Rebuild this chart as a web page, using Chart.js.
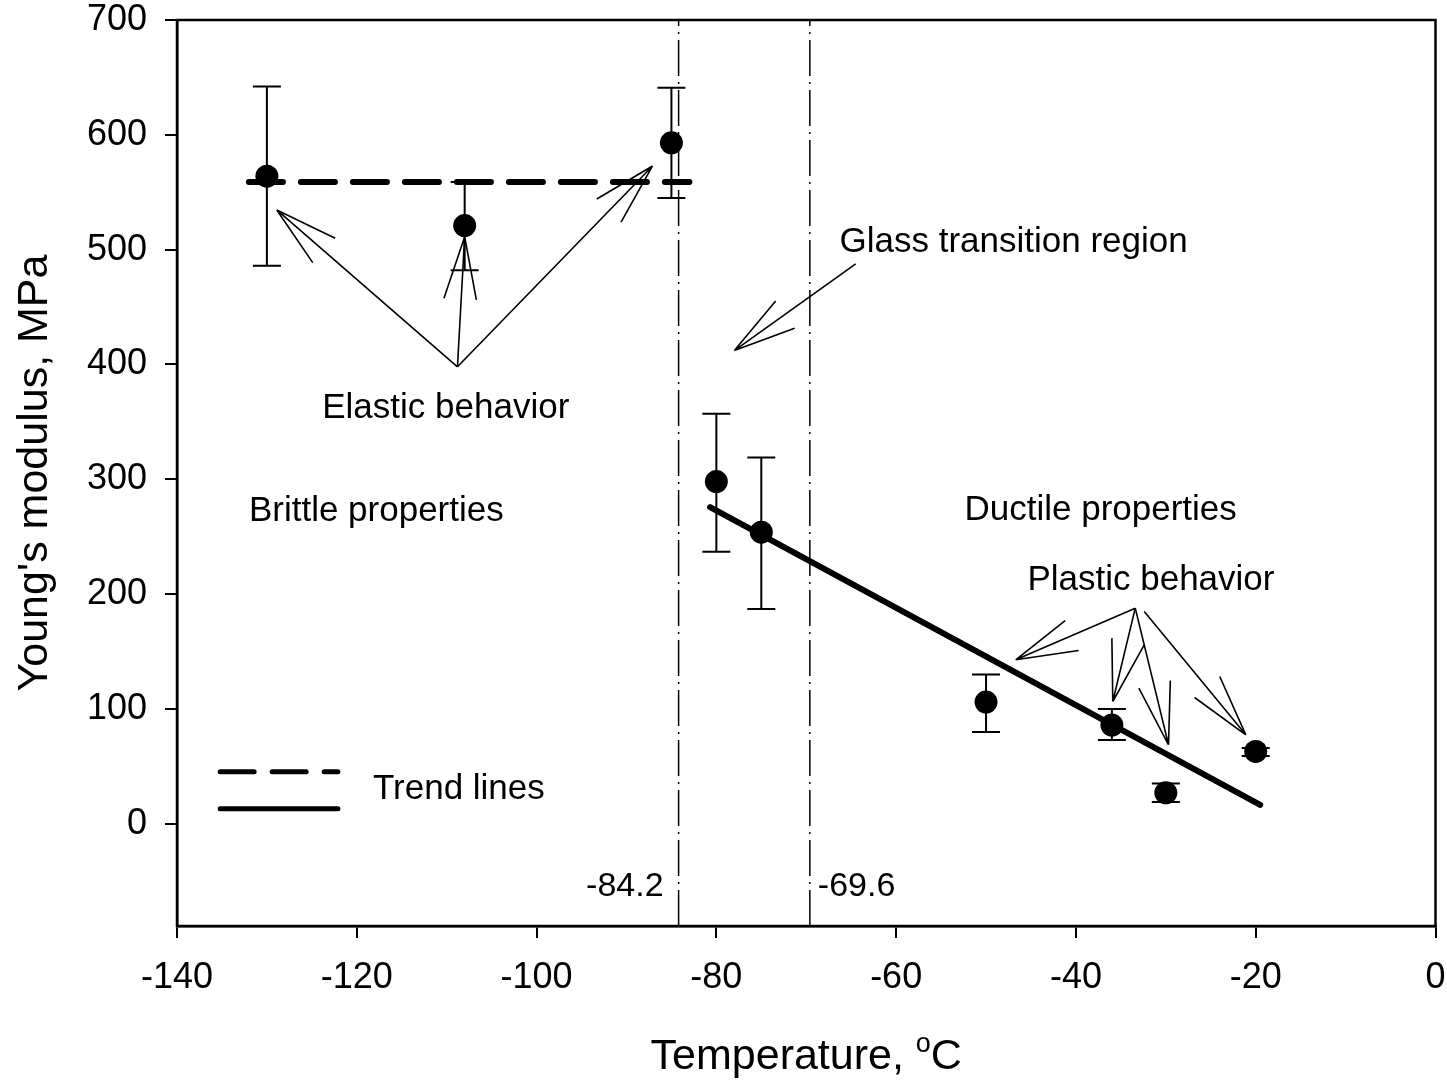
<!DOCTYPE html>
<html>
<head>
<meta charset="utf-8">
<title>Young's modulus vs temperature</title>
<script src="https://cdn.jsdelivr.net/npm/chart.js@4.4.1/dist/chart.umd.min.js"></script>
<style>
    html, body { margin: 0; padding: 0; background: #ffffff; }
    #wrap { width: 1447px; height: 1081px; }
</style>
</head>
<body>
<div id="wrap"><canvas id="modulusChart" width="1447" height="1081"></canvas></div>
<script>
// ---- data ----
const temps      = [-130, -108, -85, -80, -75, -50, -36, -30, -20];
const modulus    = [564, 521, 593, 298, 254, 106, 86, 27, 63];
const errLow     = [486, 482, 545, 237, 187, 80, 73, 19, 59];
const errHigh    = [642, 559, 641, 357, 319, 130, 100, 35, 66];

const xTicks = [-140, -120, -100, -80, -60, -40, -20, 0];
const yTicks = [0, 100, 200, 300, 400, 500, 600, 700];

// trend lines (brittle = dashed, ductile = solid)
const brittleTrendX = [-132, -83];
const brittleTrendY = [559, 559];
const ductileTrendX = [-80.7, -19.5];
const ductileTrendY = [275.7, 16.5];

// glass transition limits
const transitionTemps = [-84.2, -69.6];
const transitionLabels = ['-84.2', '-69.6'];

const FONT = '"Liberation Sans", Arial, Helvetica, sans-serif';
const yMin = -89, yMax = 700;

// annotation arrows in data units: line from tail to tip, plus two barbs at the tip
const arrows = [
    // elastic behavior
    { tail: [-108.8, 398], tip: [-128.9, 534.6], barbs: [[-122.4, 509.9], [-124.9, 488.7]] },
    { tail: [-108.8, 398], tip: [-108.0, 511.3], barbs: [[-110.3, 457.7], [-106.7, 456.2]] },
    { tail: [-108.8, 398], tip: [-87.1, 572.9], barbs: [[-93.3, 544.1], [-90.6, 523.9]] },
    // glass transition
    { tail: [-64.5, 487.6], tip: [-78.0, 412.1], barbs: [[-73.4, 455.3], [-71.3, 431.6]] },
    // plastic behavior
    { tail: [-33.4, 187.8], tip: [-46.7, 142.8], barbs: [[-41.2, 177.0], [-39.7, 150.9]] },
    { tail: [-33.4, 187.8], tip: [-35.9, 106.5], barbs: [[-36.0, 161.7], [-32.4, 155.8]] },
    { tail: [-33.4, 187.8], tip: [-29.7, 68.8], barbs: [[-33.0, 118.1], [-29.5, 124.8]] },
    { tail: [-32.4, 184.8], tip: [-21.1, 77.5], barbs: [[-26.8, 110.0], [-24.0, 128.3]] }
];

const notes = [
    { text: 'Glass transition region', x: -66.3, y: 506.7, align: 'left' },
    { text: 'Elastic behavior', x: -110.1, y: 362.2, align: 'center' },
    { text: 'Brittle properties', x: -132.0, y: 272.5, align: 'left' },
    { text: 'Ductile properties', x: -52.4, y: 273.4, align: 'left' },
    { text: 'Plastic behavior', x: -45.4, y: 211.6, align: 'left' },
    { text: 'Trend lines', x: -118.2, y: 29.6, align: 'left' }
];

function pts(xs, ys) {
    return xs.map((x, i) => ({ x: x, y: ys[i] }));
}

// error bars, frame, annotations, axis titles
const figurePlugin = {
    id: 'figureExtras',
    beforeDatasetsDraw(chart) {
        const ctx = chart.ctx;
        const xs = chart.scales.x, ys = chart.scales.y;
        ctx.save();
        ctx.strokeStyle = '#000';
        ctx.lineWidth = 2;
        temps.forEach((t, i) => {
            const px = xs.getPixelForValue(t);
            const lo = ys.getPixelForValue(errLow[i]);
            const hi = ys.getPixelForValue(errHigh[i]);
            ctx.beginPath();
            ctx.moveTo(px, lo); ctx.lineTo(px, hi);
            ctx.moveTo(px - 14, lo); ctx.lineTo(px + 14, lo);
            ctx.moveTo(px - 14, hi); ctx.lineTo(px + 14, hi);
            ctx.stroke();
        });
        ctx.restore();
    },
    afterDatasetsDraw(chart) {
        const ctx = chart.ctx;
        const xs = chart.scales.x, ys = chart.scales.y;
        const a = chart.chartArea;
        const P = (p) => [xs.getPixelForValue(p[0]), ys.getPixelForValue(p[1])];
        ctx.save();

        // arrows
        ctx.strokeStyle = '#000';
        ctx.lineWidth = 1.6;
        arrows.forEach(ar => {
            const t = P(ar.tail), h = P(ar.tip);
            ctx.beginPath();
            ctx.moveTo(t[0], t[1]); ctx.lineTo(h[0], h[1]);
            ar.barbs.forEach(b => {
                const q = P(b);
                ctx.moveTo(h[0], h[1]); ctx.lineTo(q[0], q[1]);
            });
            ctx.stroke();
        });

        // text notes
        ctx.fillStyle = '#000';
        ctx.font = '35px ' + FONT;
        ctx.textBaseline = 'middle';
        notes.forEach(n => {
            ctx.textAlign = n.align;
            ctx.fillText(n.text, xs.getPixelForValue(n.x), ys.getPixelForValue(n.y));
        });

        // transition temperature labels
        ctx.font = '34px ' + FONT;
        const ly = ys.getPixelForValue(-54.9);
        ctx.textAlign = 'right';
        ctx.fillText(transitionLabels[0], xs.getPixelForValue(transitionTemps[0]) - 15, ly);
        ctx.textAlign = 'left';
        ctx.fillText(transitionLabels[1], xs.getPixelForValue(transitionTemps[1]) + 8, ly);

        // frame
        ctx.lineWidth = 2.5;
        ctx.strokeRect(a.left, a.top, a.right - a.left, a.bottom - a.top);

        // x title with superscript o
        const cx = (a.left + a.right) / 2;
        const big = '43px ' + FONT, small = '27px ' + FONT;
        ctx.font = big;
        const w1 = ctx.measureText('Temperature, ').width;
        const w3 = ctx.measureText('C').width;
        ctx.font = small;
        const w2 = ctx.measureText('o').width;
        let x0 = cx - (w1 + w2 + w3) / 2;
        const by = 1069;
        ctx.textAlign = 'left';
        ctx.textBaseline = 'alphabetic';
        ctx.font = big;
        ctx.fillText('Temperature, ', x0, by);
        ctx.font = small;
        ctx.fillText('o', x0 + w1, by - 17);
        ctx.font = big;
        ctx.fillText('C', x0 + w1 + w2, by);

        // y title
        ctx.translate(47, (a.top + a.bottom) / 2);
        ctx.rotate(-Math.PI / 2);
        ctx.textAlign = 'center';
        ctx.fillText("Young's modulus, MPa", 0, 0);
        ctx.restore();
    }
};

const solidLine = {
    type: 'line',
    borderColor: '#000',
    borderWidth: 6,
    borderCapStyle: 'round',
    pointRadius: 0,
    fill: false
};

const dashedLine = Object.assign({}, solidLine, { borderDash: [34, 18] });

const dashDot = {
    type: 'line',
    borderColor: '#000',
    borderWidth: 1.5,
    borderDash: [36, 6, 2, 6],
    pointRadius: 0,
    fill: false
};

new Chart(document.getElementById('modulusChart').getContext('2d'), {
    type: 'scatter',
    data: {
        datasets: [
            {
                label: 'Young modulus',
                data: pts(temps, modulus),
                pointRadius: 11.5,
                pointBackgroundColor: '#000',
                pointBorderWidth: 0,
                showLine: false
            },
            Object.assign({ label: 'Brittle trend', data: pts(brittleTrendX, brittleTrendY) }, dashedLine),
            Object.assign({ label: 'Ductile trend', data: pts(ductileTrendX, ductileTrendY) }, solidLine),
            Object.assign({ label: 'Tg start', data: pts([transitionTemps[0], transitionTemps[0]], [yMin, yMax]) }, dashDot),
            Object.assign({ label: 'Tg end', data: pts([transitionTemps[1], transitionTemps[1]], [yMin, yMax]) }, dashDot),
            Object.assign({ label: 'Legend dashed', data: pts([-135.2, -122.1], [45.3, 45.3]) }, dashedLine, { borderWidth: 5 }),
            Object.assign({ label: 'Legend solid', data: pts([-135.2, -122.1], [13.1, 13.1]) }, solidLine, { borderWidth: 5 })
        ]
    },
    options: {
        responsive: false,
        animation: false,
        layout: { padding: { top: 20, right: 10, left: 0, bottom: 0 } },
        plugins: {
            legend: { display: false },
            tooltip: { enabled: false }
        },
        scales: {
            x: {
                type: 'linear',
                min: -140,
                max: 0,
                afterBuildTicks: (s) => { s.ticks = xTicks.map(v => ({ value: v })); },
                afterFit: (s) => {
                    s.height = 155;
                    s.paddingLeft = 0; s.paddingRight = 0;
                },
                ticks: {
                    color: '#000',
                    padding: 18,
                    font: { family: FONT, size: 36 },
                    callback: (v) => String(v)
                },
                grid: {
                    drawOnChartArea: false,
                    drawTicks: true,
                    tickLength: 12,
                    color: '#000',
                    lineWidth: 2
                },
                border: { display: true, color: '#000', width: 2.5 }
            },
            y: {
                type: 'linear',
                min: yMin,
                max: yMax,
                afterBuildTicks: (s) => { s.ticks = yTicks.map(v => ({ value: v })); },
                afterFit: (s) => {
                    s.width = 177;
                    s.paddingTop = 0; s.paddingBottom = 0;
                },
                ticks: {
                    color: '#000',
                    padding: 18,
                    font: { family: FONT, size: 36 },
                    callback: (v) => String(v)
                },
                grid: {
                    drawOnChartArea: false,
                    drawTicks: true,
                    tickLength: 12,
                    color: '#000',
                    lineWidth: 2
                },
                border: { display: true, color: '#000', width: 2.5 }
            }
        }
    },
    plugins: [figurePlugin]
});
</script>
</body>
</html>
